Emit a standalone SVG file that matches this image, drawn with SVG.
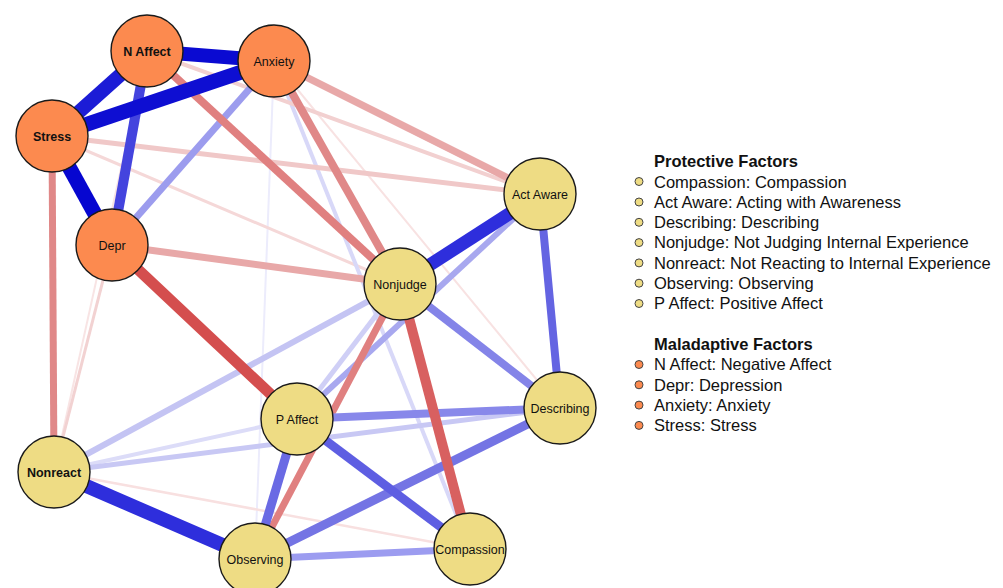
<svg xmlns="http://www.w3.org/2000/svg" width="1003" height="588" viewBox="0 0 1003 588">
<style>
.e{fill:none;stroke-linecap:butt}
.n circle{stroke:#1a1a1a;stroke-width:1.4}
.o{fill:#fc8a4f}
.y{fill:#eedc84}
.n text{font-family:"Liberation Sans",Arial,sans-serif;font-size:12.5px;fill:#111;text-anchor:middle}
.n text.b{font-weight:bold}
.lg text{font-family:"Liberation Sans",Arial,sans-serif;font-size:16.5px;fill:#111}
.lg text.h{font-weight:bold}
.lg circle{stroke:#444;stroke-width:1}
</style>
<rect width="1003" height="588" fill="#ffffff"/>
<g id="connectors">
<line class="e" x1="274" y1="61" x2="255" y2="559" stroke="#ececfc" stroke-width="2"/>
<line class="e" x1="274" y1="61" x2="560" y2="408" stroke="#f8e2e2" stroke-width="2"/>
<line class="e" x1="147" y1="51" x2="54" y2="472" stroke="#f8e4e4" stroke-width="2"/>
<line class="e" x1="54" y1="472" x2="470" y2="549" stroke="#f8e0e0" stroke-width="2.5"/>
<line class="e" x1="52" y1="136" x2="400" y2="284" stroke="#f5d8d8" stroke-width="3"/>
<line class="e" x1="112" y1="245" x2="54" y2="472" stroke="#f2d2d2" stroke-width="3"/>
<line class="e" x1="274" y1="61" x2="470" y2="549" stroke="#d8d8f8" stroke-width="4"/>
<line class="e" x1="147" y1="51" x2="540" y2="194" stroke="#f2d0d0" stroke-width="4"/>
<line class="e" x1="54" y1="472" x2="297" y2="419" stroke="#dcdcf8" stroke-width="4"/>
<line class="e" x1="52" y1="136" x2="540" y2="194" stroke="#f0c8c8" stroke-width="5"/>
<line class="e" x1="400" y1="284" x2="297" y2="419" stroke="#cfcff6" stroke-width="5"/>
<line class="e" x1="54" y1="472" x2="560" y2="408" stroke="#c8c8f4" stroke-width="5"/>
<line class="e" x1="54" y1="472" x2="400" y2="284" stroke="#c4c4f3" stroke-width="6"/>
<line class="e" x1="540" y1="194" x2="297" y2="419" stroke="#a8a8ef" stroke-width="6"/>
<line class="e" x1="274" y1="61" x2="112" y2="245" stroke="#9c9cee" stroke-width="7"/>
<line class="e" x1="255" y1="559" x2="470" y2="549" stroke="#9c9cf0" stroke-width="7"/>
<line class="e" x1="274" y1="61" x2="540" y2="194" stroke="#e8a8a8" stroke-width="7"/>
<line class="e" x1="112" y1="245" x2="400" y2="284" stroke="#e8a8a8" stroke-width="7"/>
<line class="e" x1="52" y1="136" x2="54" y2="472" stroke="#e08888" stroke-width="7"/>
<line class="e" x1="400" y1="284" x2="255" y2="559" stroke="#e08080" stroke-width="7"/>
<line class="e" x1="274" y1="61" x2="400" y2="284" stroke="#e08888" stroke-width="8"/>
<line class="e" x1="147" y1="51" x2="400" y2="284" stroke="#e08080" stroke-width="8"/>
<line class="e" x1="400" y1="284" x2="560" y2="408" stroke="#8484e8" stroke-width="8"/>
<line class="e" x1="297" y1="419" x2="560" y2="408" stroke="#8888ea" stroke-width="8"/>
<line class="e" x1="540" y1="194" x2="560" y2="408" stroke="#6464e2" stroke-width="8"/>
<line class="e" x1="255" y1="559" x2="560" y2="408" stroke="#7474e4" stroke-width="9"/>
<line class="e" x1="297" y1="419" x2="255" y2="559" stroke="#6a6ae4" stroke-width="9"/>
<line class="e" x1="297" y1="419" x2="470" y2="549" stroke="#5e5ee2" stroke-width="9"/>
<line class="e" x1="400" y1="284" x2="470" y2="549" stroke="#d86060" stroke-width="10"/>
<line class="e" x1="147" y1="51" x2="112" y2="245" stroke="#4444de" stroke-width="10"/>
<line class="e" x1="112" y1="245" x2="297" y2="419" stroke="#d44e4e" stroke-width="11"/>
<line class="e" x1="540" y1="194" x2="400" y2="284" stroke="#2e2edc" stroke-width="13"/>
<line class="e" x1="54" y1="472" x2="255" y2="559" stroke="#2e2edc" stroke-width="14"/>
<line class="e" x1="147" y1="51" x2="52" y2="136" stroke="#1c1cd6" stroke-width="14"/>
<line class="e" x1="147" y1="51" x2="274" y2="61" stroke="#0a0ad2" stroke-width="14"/>
<line class="e" x1="52" y1="136" x2="274" y2="61" stroke="#0e0ed2" stroke-width="15"/>
<line class="e" x1="52" y1="136" x2="112" y2="245" stroke="#0606d0" stroke-width="15"/>
</g>
<g id="node-naffect" class="n"><circle class="o" cx="147" cy="51" r="36"/><text class="b" x="147" y="55.5">N Affect</text></g>
<g id="node-anxiety" class="n"><circle class="o" cx="274" cy="61" r="36"/><text x="274" y="65.5">Anxiety</text></g>
<g id="node-stress" class="n"><circle class="o" cx="52" cy="136" r="36"/><text class="b" x="52" y="140.5">Stress</text></g>
<g id="node-depr" class="n"><circle class="o" cx="112" cy="245" r="36"/><text x="112" y="249.5">Depr</text></g>
<g id="node-actaware" class="n"><circle class="y" cx="540" cy="194" r="36"/><text x="540" y="198.5">Act Aware</text></g>
<g id="node-nonjudge" class="n"><circle class="y" cx="400" cy="284" r="36"/><text x="400" y="288.5">Nonjudge</text></g>
<g id="node-nonreact" class="n"><circle class="y" cx="54" cy="472" r="36"/><text class="b" x="54" y="476.5">Nonreact</text></g>
<g id="node-paffect" class="n"><circle class="y" cx="297" cy="419" r="36"/><text x="297" y="423.5">P Affect</text></g>
<g id="node-describing" class="n"><circle class="y" cx="560" cy="408" r="36"/><text x="560" y="412.5">Describing</text></g>
<g id="node-observing" class="n"><circle class="y" cx="255" cy="559" r="36"/><text x="255" y="563.5">Observing</text></g>
<g id="node-compassion" class="n"><circle class="y" cx="470" cy="549" r="36"/><text x="470" y="553.5">Compassion</text></g>
<g id="legend" class="lg">
<text class="h" x="654" y="166.5">Protective Factors</text>
<circle class="y" cx="639" cy="181.5" r="4"/><text x="654" y="187.5">Compassion: Compassion</text>
<circle class="y" cx="639" cy="202" r="4"/><text x="654" y="207.8">Act Aware: Acting with Awareness</text>
<circle class="y" cx="639" cy="222.3" r="4"/><text x="654" y="228.1">Describing: Describing</text>
<circle class="y" cx="639" cy="242.6" r="4"/><text x="654" y="248.4">Nonjudge: Not Judging Internal Experience</text>
<circle class="y" cx="639" cy="262.9" r="4"/><text x="654" y="268.7">Nonreact: Not Reacting to Internal Experience</text>
<circle class="y" cx="639" cy="283.2" r="4"/><text x="654" y="289">Observing: Observing</text>
<circle class="y" cx="639" cy="303.5" r="4"/><text x="654" y="309.3">P Affect: Positive Affect</text>
<text class="h" x="654" y="349.5">Maladaptive Factors</text>
<circle class="o" cx="639" cy="364.5" r="4"/><text x="654" y="370.3">N Affect: Negative Affect</text>
<circle class="o" cx="639" cy="384.8" r="4"/><text x="654" y="390.6">Depr: Depression</text>
<circle class="o" cx="639" cy="405.1" r="4"/><text x="654" y="410.9">Anxiety: Anxiety</text>
<circle class="o" cx="639" cy="425.4" r="4"/><text x="654" y="431.2">Stress: Stress</text>
</g>
</svg>
